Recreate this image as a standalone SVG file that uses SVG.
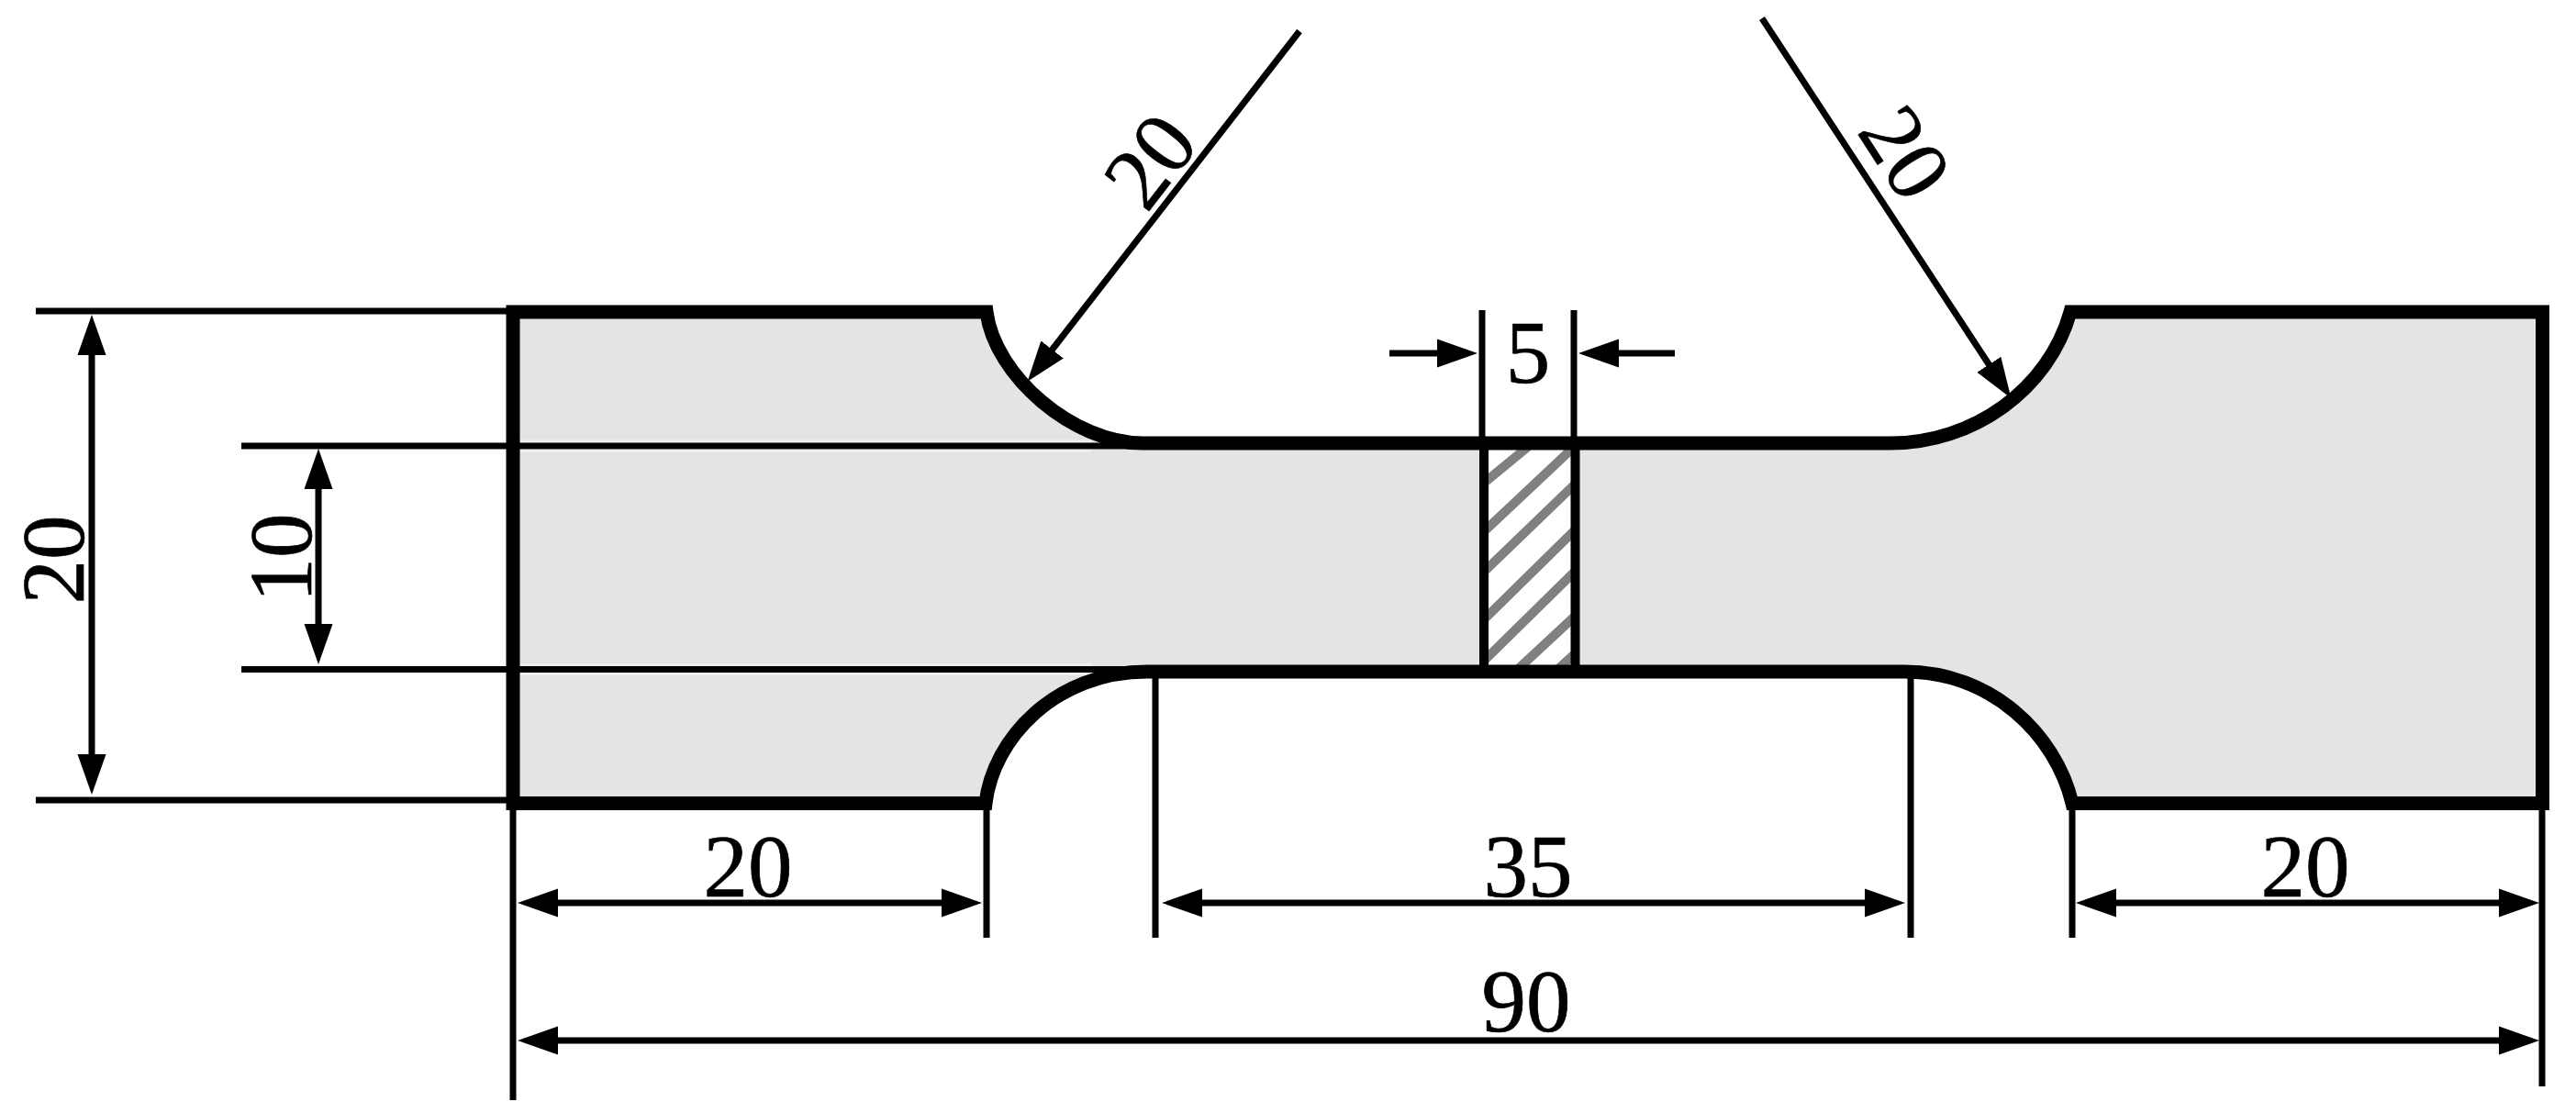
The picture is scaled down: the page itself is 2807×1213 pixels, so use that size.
<svg xmlns="http://www.w3.org/2000/svg" width="2807" height="1213" viewBox="0 0 2807 1213">
<style>
.thin{stroke:#000;stroke-width:7;fill:none}
.thick{stroke:#000;stroke-width:15;fill:none}
.halo{stroke:#efefef;fill:none}
.hatch{stroke:#808080;stroke-width:10;fill:none}
.both{marker-start:url(#ah);marker-end:url(#ah)}
.one{marker-end:url(#ah)}
.t{font-family:"Liberation Serif","Times New Roman",serif;font-size:97px;fill:#000;stroke:#000;stroke-width:.7;text-anchor:middle}
</style>
<defs>
<marker id="ah" markerUnits="userSpaceOnUse" markerWidth="46" markerHeight="32" refX="14" refY="16" orient="auto-start-reverse" viewBox="0 0 46 32"><path d="M0 .5L44 16L0 31.5Z" fill="#000"/></marker>
<clipPath id="hc"><rect x="1622" y="490" width="90" height="236"/></clipPath>
</defs>
<rect width="2807" height="1213" fill="#fff"/>
<g id="specimen">
<path d="M559 340H1075C1084 410 1170 483 1245 483H2060C2150 483 2232 425 2256 340H2770.5V875.5H2258C2240 800 2170 732 2075 732H1250C1150 732 1082 805 1074 875.5H559Z" fill="#e4e4e4"/>
<path class="halo" stroke-width="13" d="M567 486H1190M567 729.5H1190"/>
<rect x="1616" y="483" width="102" height="249" fill="#fff"/>
<g clip-path="url(#hc)" class="hatch">
<path d="M1610 532L1665 487M1610 586L1712 490M1610 630L1722 522M1610 682L1722 572M1610 727L1722 617M1650 733L1722 666M1698 729L1722 707"/>
</g>
</g>
<g id="connectors">
<path class="thin" d="M39 339H560M263 486H1240M263 729.5H1240M39 872H560M1615 338V482M1715 338V482M559 876V1199M1075 876V1022M1259 733V1022M2082 733V1022M2258 876V1022M2770 876V1184"/>
<path class="thin both" d="M100 373V836"/>
<path class="thin both" d="M347 519V694"/>
<path class="thin both" d="M594 984H1040"/>
<path class="thin both" d="M1296 984H2046"/>
<path class="thin both" d="M2292 984H2737"/>
<path class="thin both" d="M594 1134H2737"/>
<path class="thin one" d="M1416 34L1138 392"/>
<path class="thin one" d="M1920 20L2175 409"/>
<path class="thin one" d="M1514 385H1580"/>
<path class="thin one" d="M1825 385H1750"/>
</g>
<g id="outline">
<path class="thick" d="M559 340H1075C1084 410 1170 483 1245 483H2060C2150 483 2232 425 2256 340H2770.5V875.5H2258C2240 800 2170 732 2075 732H1250C1150 732 1082 805 1074 875.5H559Z"/>
<path class="thin" style="stroke-width:10" d="M1617 483V732M1716.5 483V732"/>
</g>
<g id="labels">
<text class="t" x="815" y="977">20</text>
<text class="t" x="1665" y="977">35</text>
<text class="t" x="2512" y="977">20</text>
<text class="t" x="1663" y="1124">90</text>
<text class="t" x="1665" y="417">5</text>
<text class="t" transform="translate(91 610) rotate(-90)">20</text>
<text class="t" transform="translate(339 608) rotate(-90)">10</text>
<text class="t" transform="translate(1279 195) rotate(-52.4)">20</text>
<text class="t" transform="translate(2049 184) rotate(57)">20</text>
</g>
</svg>
